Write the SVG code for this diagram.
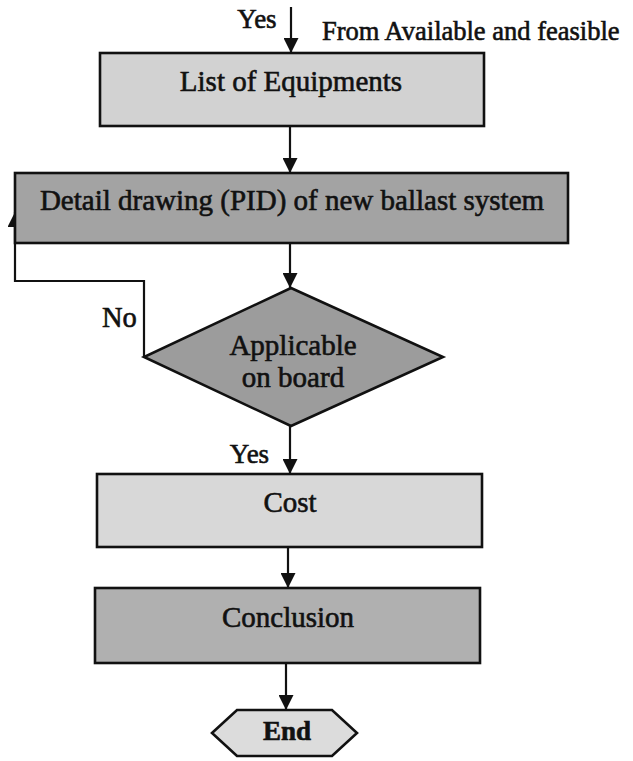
<svg xmlns="http://www.w3.org/2000/svg" width="633" height="761" viewBox="0 0 633 761">
<style>
.t{font-family:"Liberation Serif","Times New Roman",serif;fill:#111;stroke:#111;stroke-width:0.6;}
.c{text-anchor:middle;}
.box{stroke:#111;stroke-width:2.6;}
.line{fill:none;stroke:#111;stroke-width:2.2;}
</style>
<defs>
<marker id="ah" markerUnits="userSpaceOnUse" markerWidth="15" markerHeight="15" refX="15" refY="7.5" orient="auto">
<path d="M0,0 L15,7.5 L0,15 z" fill="#111"/>
</marker>
</defs>
<rect width="633" height="761" fill="#ffffff"/>

<g id="connectors">
<path class="line" d="M291,7 L291,53" marker-end="url(#ah)"/>
<path class="line" d="M290,126 L290,173" marker-end="url(#ah)"/>
<path class="line" d="M290,243 L290,288" marker-end="url(#ah)"/>
<path class="line" d="M144,357 L144,281 L15,281 L15,212" marker-end="url(#ah)"/>
<path class="line" d="M290,426 L290,474" marker-end="url(#ah)"/>
<path class="line" d="M288,547 L288,588" marker-end="url(#ah)"/>
<path class="line" d="M286,663 L286,710" marker-end="url(#ah)"/>
</g>

<g id="labels">
<text class="t c" x="257" y="28" font-size="27">Yes</text>
<text class="t" x="322" y="40" font-size="26.5">From Available and feasible</text>
<text class="t" x="102" y="327" font-size="28.5">No</text>
<text class="t c" x="249.5" y="463" font-size="27">Yes</text>
</g>

<g id="list-of-equipments">
<rect class="box" x="100" y="53" width="384" height="73" fill="#d2d2d2"/>
<text class="t c" x="291" y="91" font-size="29">List of Equipments</text>
</g>

<g id="detail-drawing">
<rect class="box" x="15" y="173" width="553" height="70" fill="#a3a3a3"/>
<text class="t c" x="292" y="210" font-size="29">Detail drawing (PID) of new ballast system</text>
</g>

<g id="applicable">
<polygon class="box" points="291,288 443,357 291,426 144,357" fill="#9c9c9c"/>
<text class="t c" x="293" y="355" font-size="29">Applicable</text>
<text class="t c" x="293" y="387" font-size="29">on board</text>
</g>

<g id="cost">
<rect class="box" x="97" y="474" width="385" height="73" fill="#d8d8d8"/>
<text class="t c" x="290" y="512" font-size="29">Cost</text>
</g>

<g id="conclusion">
<rect class="box" x="95" y="588" width="385" height="75" fill="#b0b0b0"/>
<text class="t c" x="288" y="627" font-size="29">Conclusion</text>
</g>

<g id="end">
<polygon class="box" points="212,733 237,710 332,710 357,733 332,756 237,756" fill="#dcdcdc"/>
<text class="t c" x="287" y="740" font-size="27" font-weight="bold">End</text>
</g>
</svg>
